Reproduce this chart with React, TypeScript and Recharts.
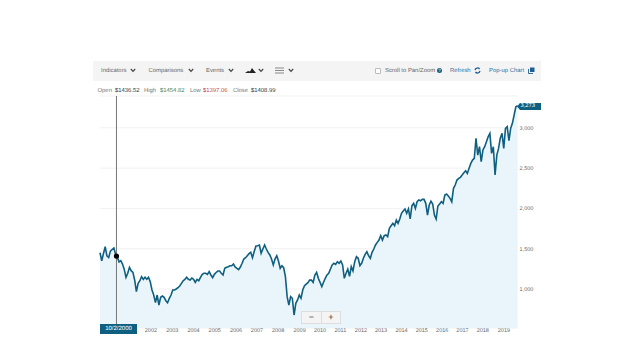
import React from 'react';
import {
  AreaChart,
  Area,
  XAxis,
  YAxis,
  CartesianGrid,
  ReferenceLine,
  ReferenceDot
} from 'recharts';

// Monthly-ish closes, starting Jan 2000
const closes = [
  1450, 1350, 1440, 1525, 1410, 1390, 1470, 1490, 1510, 1430, 1395, 1335,
  1351, 1310, 1243, 1145, 1195, 1269, 1227, 1207, 1112, 967, 1070, 1103,
  1153, 1120, 1145, 1120, 1145, 1091, 988, 925, 830, 925, 800, 897,
  913, 897, 855, 830, 885, 925, 988, 988, 1000, 1016, 1037, 1070,
  1103, 1120, 1145, 1120, 1112, 1136, 1120, 1083, 1120, 1103, 1145, 1182,
  1195, 1195, 1182, 1215, 1174, 1140, 1182, 1205, 1223, 1223, 1195, 1174,
  1257, 1269, 1277, 1289, 1289, 1310, 1273, 1257, 1240, 1273, 1319, 1372,
  1388, 1413, 1438, 1455, 1388, 1465, 1534, 1537, 1546, 1443, 1496, 1546,
  1496, 1455, 1422, 1372, 1298, 1372, 1413, 1347, 1257, 1289, 1264, 1153,
  905, 800, 905, 885, 677, 822, 864, 925, 885, 988, 1041, 1060,
  1078, 1110, 1112, 1083, 1174, 1207, 1133, 1083, 1029, 1083, 1133, 1174,
  1195, 1248, 1298, 1319, 1306, 1339, 1319, 1347, 1298, 1133, 1195, 1248,
  1157, 1278, 1225, 1339, 1401, 1381, 1290, 1319, 1381, 1430, 1463, 1413,
  1381, 1455, 1496, 1546, 1579, 1608, 1661, 1608, 1661, 1670, 1650, 1753,
  1785, 1815, 1785, 1856, 1815, 1868, 1939, 1968, 1993, 1939, 1993, 1870,
  2033, 2063, 2000, 2083, 2104, 2095, 2112, 2112, 2063, 1918, 2042, 2090,
  2055, 1918, 1868, 2030, 2055, 2083, 2063, 2166, 2179, 2154, 2125, 2083,
  2249, 2290, 2352, 2372, 2386, 2414, 2443, 2467, 2434, 2497, 2559, 2600,
  2620, 2870, 2662, 2766, 2579, 2725, 2766, 2828, 2890, 2932, 2683, 2766,
  2414, 2662, 2745, 2870, 2932, 2745, 2994, 3014, 2840, 2994, 3056, 3159,
  3262, 3273
];
const yearLabels = [
  '2002', '2003', '2004', '2005', '2006', '2007', '2008', '2009', '2010',
  '2011', '2012', '2013', '2014', '2015', '2016', '2017', '2018', '2019'
];
const yearTicks = [
  29.4, 41.7, 54, 66.2, 78.5, 90.6, 102.8, 115.2, 127,
  138.7, 150.6, 162.2, 174, 185.7, 197.5, 209.2, 220.9, 233.1
];
const priceTicks = [1000, 1500, 2000, 2500, 3000];
const ohlc = [
  { name: 'Open', value: '$1436.52', color: '#333', x: 97.5, vx: 115 },
  { name: 'High', value: '$1454.82', color: '#2e8b6b', x: 144, vx: 160 },
  { name: 'Low', value: '$1397.06', color: '#c4473f', x: 190, vx: 203 },
  { name: 'Close', value: '$1408.99', color: '#333', x: 233, vx: 251 }
];
const cursorMonth = 9.5;
const cursorClose = 1409;

const data = closes.map((close, month) => ({ month, close }));

const FONT = '"Liberation Sans", Arial, sans-serif';
const TEAL = '#0f5f80';

function Txt({ x, y, color = '#666', size = 5.9, children }: any) {
  return (
    <div style={{ position: 'absolute', left: x, top: y, fontSize: size, lineHeight: '10px', color, whiteSpace: 'nowrap' }}>
      {children}
    </div>
  );
}

function Chevron({ x, y }: { x: number; y: number }) {
  return (
    <svg style={{ position: 'absolute', left: x, top: y }} width={6} height={5}>
      <path d="M0.8 1 L3 3.4 L5.2 1" fill="none" stroke="#444" strokeWidth={1.2} />
    </svg>
  );
}

export default function App() {
  return (
    <div style={{ position: 'absolute', left: 0, top: 0, width: 640, height: 360, background: '#fff', fontFamily: FONT, overflow: 'hidden', textRendering: 'geometricPrecision' }}>
      <AreaChart
        width={640}
        height={360}
        data={data}
        margin={{ top: 96, right: 0, left: 100, bottom: 0 }}
        style={{ position: 'absolute', left: 0, top: 0 }}
      >
        <CartesianGrid horizontal vertical={false} stroke="#f1f1f1" strokeWidth={1} />
        <XAxis
          dataKey="month"
          type="number"
          domain={[0, 241]}
          ticks={yearTicks}
          interval={0}
          height={32}
          axisLine={false}
          tickLine={false}
          tickSize={0}
          tickMargin={0}
          tick={{ fontSize: 5.5, fill: '#666', fontFamily: FONT }}
          tickFormatter={(v: number) => yearLabels[yearTicks.indexOf(v)]}
        />
        <YAxis
          orientation="right"
          width={122.4}
          domain={[516, 3395]}
          ticks={priceTicks}
          allowDataOverflow
          axisLine={false}
          tickLine={false}
          tickSize={0}
          tickMargin={2}
          tick={{ fontSize: 5.5, fill: '#666', fontFamily: FONT, textAnchor: 'start' }}
          tickFormatter={(v: number) => v.toLocaleString('en-US')}
        />
        <Area
          type="linear"
          dataKey="close"
          stroke={TEAL}
          strokeWidth={1.6}
          fill="#e9f5fb"
          fillOpacity={1}
          isAnimationActive={false}
          dot={false}
          activeDot={false}
        />
        <ReferenceLine x={cursorMonth} stroke="#777" strokeWidth={1} />
        <ReferenceDot x={cursorMonth} y={cursorClose} r={2.6} fill="#000" stroke="none" />
      </AreaChart>

      {/* toolbar */}
      <div style={{ position: 'absolute', left: 93, top: 61, width: 448, height: 20, background: '#f4f4f4' }} />
      <Txt x={101} y={66}>Indicators</Txt>
      <Chevron x={130} y={68} />
      <Txt x={148.5} y={66}>Comparisons</Txt>
      <Chevron x={188} y={68} />
      <Txt x={206} y={66}>Events</Txt>
      <Chevron x={228} y={68} />
      <svg style={{ position: 'absolute', left: 245, top: 67 }} width={11} height={7}>
        <path d="M0 6 L3 4 L5 4.5 L7 1 L8.5 3 L11 6 Z" fill="#222" />
      </svg>
      <Chevron x={258} y={68} />
      <svg style={{ position: 'absolute', left: 275, top: 67 }} width={9} height={7}>
        <path d="M0 1 H9 M0 3.5 H9 M0 6 H9" stroke="#888" strokeWidth={1} />
      </svg>
      <Chevron x={288} y={68} />

      <div style={{ position: 'absolute', left: 375, top: 67.5, width: 4, height: 4, border: '1px solid #bbb', background: '#fff', borderRadius: 1 }} />
      <Txt x={385} y={66}>Scroll to Pan/Zoom</Txt>
      <div style={{ position: 'absolute', left: 437, top: 68, width: 5, height: 5, borderRadius: 3, background: TEAL, color: '#fff', fontSize: 4.5, lineHeight: '5px', textAlign: 'center' }}>?</div>
      <Txt x={450} y={66} color="#2b6fa8">Refresh</Txt>
      <svg style={{ position: 'absolute', left: 474, top: 67 }} width={7} height={7}>
        <path d="M1 3 A2.6 2.6 0 0 1 5.6 2 M6 4 A2.6 2.6 0 0 1 1.4 5" fill="none" stroke="#1f5f95" strokeWidth={1.3} />
      </svg>
      <Txt x={489} y={66} color="#2b6fa8">Pop-up Chart</Txt>
      <svg style={{ position: 'absolute', left: 528, top: 67 }} width={7} height={7}>
        <path d="M2 0.5 H6.5 V5 H2 Z" fill="#1f5f95" />
        <path d="M0.5 2 V6.5 H5" fill="none" stroke="#1f5f95" strokeWidth={0.9} />
      </svg>

      {/* open / high / low / close row */}
      {ohlc.map(item => (
        <React.Fragment key={item.name}>
          <Txt x={item.x} y={85.5} color="#777">{item.name}</Txt>
          <Txt x={item.vx} y={85.5} color={item.color}>{item.value}</Txt>
        </React.Fragment>
      ))}

      {/* cursor date flag */}
      <div style={{ position: 'absolute', left: 100, top: 324, width: 37, height: 10, background: TEAL, color: '#fff', fontSize: 6, lineHeight: '10px', textAlign: 'center' }}>
        10/2/2000
      </div>

      {/* last price flag */}
      <svg style={{ position: 'absolute', left: 517, top: 102.5 }} width={25} height={7}>
        <path d="M0 3.5 L3 0 H24 V7 H3 Z" fill={TEAL} />
      </svg>
      <div style={{ position: 'absolute', left: 520.5, top: 101, fontSize: 5.8, lineHeight: '10px', color: '#fff' }}>3,273</div>

      {/* zoom buttons */}
      <div style={{ position: 'absolute', left: 301, top: 311, width: 40, height: 13, background: '#f4f4f4', border: '1px solid #ddd', boxSizing: 'border-box', display: 'flex', fontSize: 9, lineHeight: '11px', color: '#333', textAlign: 'center' }}>
        <div style={{ width: 19, borderRight: '1px solid #ddd' }}>−</div>
        <div style={{ flex: 1 }}>+</div>
      </div>
    </div>
  );
}
